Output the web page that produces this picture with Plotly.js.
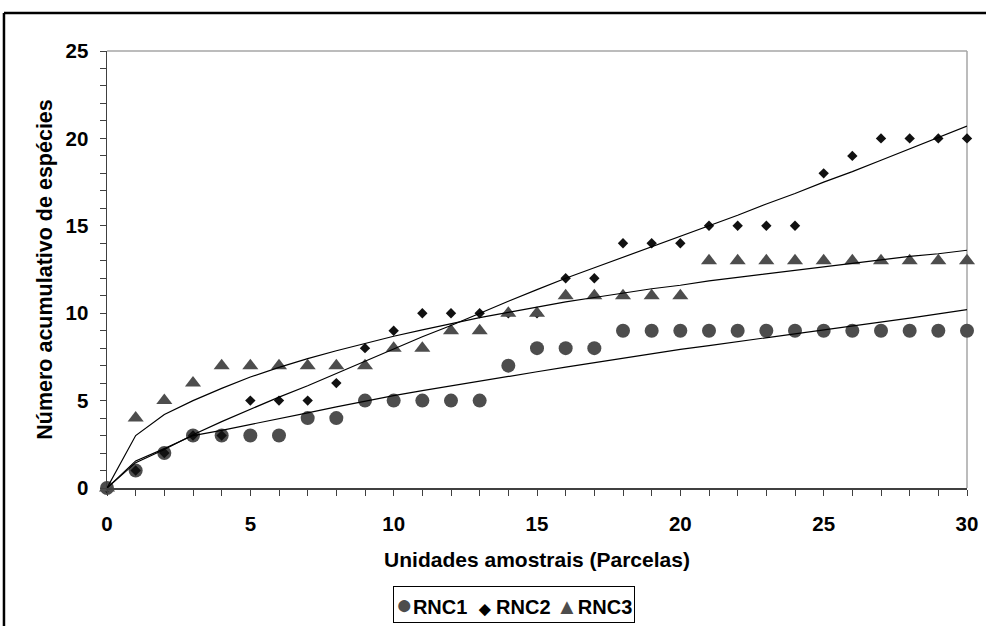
<!DOCTYPE html>
<html>
<head>
<meta charset="utf-8">
<script src="https://cdn.plot.ly/plotly-3.0.1.min.js"></script>
<style>
  html, body { margin: 0; padding: 0; background: #ffffff; }
  #chart { width: 986px; height: 626px; }
</style>
</head>
<body>
<div id="chart"></div>
<script>
// Accumulated species per sampling unit (plots) for three areas
const parcelas = [0, 1, 2, 3, 4, 5, 6, 7, 8, 9, 10, 11, 12, 13, 14, 15, 16, 17, 18, 19, 20, 21, 22, 23, 24, 25, 26, 27, 28, 29, 30];

const rnc1 = [0, 1, 2, 3, 3, 3, 3, 4, 4, 5, 5, 5, 5, 5, 7, 8, 8, 8, 9, 9, 9, 9, 9, 9, 9, 9, 9, 9, 9, 9, 9];
const rnc2 = [0, 1, 2, 3, 3, 5, 5, 5, 6, 8, 9, 10, 10, 10, 10, 10, 12, 12, 14, 14, 14, 15, 15, 15, 15, 18, 19, 20, 20, 20, 20];
const rnc3 = [0, 4, 5, 6, 7, 7, 7, 7, 7, 7, 8, 8, 9, 9, 10, 10, 11, 11, 11, 11, 11, 13, 13, 13, 13, 13, 13, 13, 13, 13, 13];

// Fitted accumulation curves
const ajuste1 = [0, 1.55, 2.25, 3.0, 3.3, 3.62, 3.95, 4.3, 4.64, 4.97, 5.28, 5.57, 5.85, 6.12, 6.39, 6.65, 6.92, 7.18, 7.44, 7.7, 7.93, 8.15, 8.37, 8.59, 8.8, 9.02, 9.25, 9.48, 9.72, 9.96, 10.2];
const ajuste2 = [0, 1.45, 2.2, 3.05, 3.8, 4.5, 5.2, 5.85, 6.55, 7.25, 7.95, 8.65, 9.3, 10.0, 10.68, 11.35, 12.0, 12.6, 13.2, 13.8, 14.4, 15.0, 15.6, 16.25, 16.85, 17.5, 18.1, 18.75, 19.4, 20.05, 20.7];
const ajuste3 = [0, 3.0, 4.2, 5.0, 5.7, 6.35, 6.9, 7.4, 7.85, 8.28, 8.68, 9.05, 9.4, 9.75, 10.05, 10.35, 10.65, 10.9, 11.15, 11.4, 11.6, 11.85, 12.05, 12.25, 12.45, 12.65, 12.85, 13.05, 13.25, 13.4, 13.6];

const xTicks = [0, 5, 10, 15, 20, 25, 30];
const yTicks = [0, 5, 10, 15, 20, 25];

const FONT = 'Liberation Sans, Arial, sans-serif';
const GRAY = '#4d4d4d';
const AXIS = '#404040';

const traces = [
  { x: parcelas, y: rnc1, name: 'RNC1', mode: 'markers', type: 'scatter', cliponaxis: false,
    marker: { symbol: 'circle', size: 14, color: GRAY } },
  { x: parcelas, y: rnc2, name: 'RNC2', mode: 'markers', type: 'scatter', cliponaxis: false,
    marker: { symbol: 'diamond', size: 8, color: '#111111' } },
  { x: parcelas, y: rnc3, name: 'RNC3', mode: 'markers', type: 'scatter', cliponaxis: false,
    marker: { symbol: 'triangle-up', size: 14, color: GRAY } },
  { x: parcelas, y: ajuste1, mode: 'lines', type: 'scatter', showlegend: false, cliponaxis: false,
    line: { color: '#000000', width: 1.2 } },
  { x: parcelas, y: ajuste2, mode: 'lines', type: 'scatter', showlegend: false, cliponaxis: false,
    line: { color: '#000000', width: 1.2 } },
  { x: parcelas, y: ajuste3, mode: 'lines', type: 'scatter', showlegend: false, cliponaxis: false,
    line: { color: '#000000', width: 1.2 } }
];

const layout = {
  width: 986,
  height: 626,
  margin: { l: 107, r: 19, t: 51, b: 138 },
  paper_bgcolor: '#ffffff',
  plot_bgcolor: '#ffffff',
  font: { family: FONT, size: 20, color: '#000000', weight: 'bold' },
  showlegend: false,
  xaxis: {
    range: [0, 30],
    tickmode: 'array', tickvals: xTicks, ticktext: xTicks.map(String),
    ticks: 'outside', ticklen: 6, tickwidth: 1, tickcolor: AXIS,
    minor: { tickmode: 'linear', tick0: 0, dtick: 1, ticks: 'outside', ticklen: 6, tickwidth: 1, tickcolor: AXIS },
    ticklabelstandoff: 11,
    showline: true, linecolor: AXIS, linewidth: 1.5,
    showgrid: false, zeroline: false,
    tickfont: { family: FONT, size: 20.5, weight: 'bold' },
    title: { text: 'Unidades amostrais (Parcelas)', font: { family: FONT, size: 21, weight: 'bold' }, standoff: 18 }
  },
  yaxis: {
    range: [0, 25],
    tickmode: 'array', tickvals: yTicks, ticktext: yTicks.map(String),
    ticks: 'outside', ticklen: 6, tickwidth: 1, tickcolor: AXIS,
    minor: { tickmode: 'linear', tick0: 0, dtick: 1, ticks: 'outside', ticklen: 6, tickwidth: 1, tickcolor: AXIS },
    ticklabelstandoff: 7,
    showline: true, linecolor: AXIS, linewidth: 1.5,
    showgrid: false, zeroline: false,
    tickfont: { family: FONT, size: 20.5, weight: 'bold' },
    title: { text: 'Número acumulativo de espécies', font: { family: FONT, size: 21.5, weight: 'bold' }, standoff: 7 }
  },
  shapes: [
    // light frame closing the plot area on top and right
    { type: 'line', xref: 'paper', yref: 'paper', x0: 0, x1: 1, y0: 1, y1: 1, line: { color: '#a6a6a6', width: 1.5 }, layer: 'below' },
    { type: 'line', xref: 'paper', yref: 'paper', x0: 1, x1: 1, y0: 0, y1: 1, line: { color: '#a6a6a6', width: 1.5 }, layer: 'below' },
    // outer chart border
    { type: 'line', xref: 'paper', yref: 'paper', x0: -0.1198, x1: 1.05, y0: 1.087, y1: 1.087, line: { color: '#000000', width: 2.5 } },
    { type: 'line', xref: 'paper', yref: 'paper', x0: -0.1198, x1: -0.1198, y0: 1.087, y1: -0.35, line: { color: '#000000', width: 2.5 } }
  ],
  annotations: [
    {
      xref: 'paper', yref: 'paper', x: 0.4738, y: -0.2677, xanchor: 'center', yanchor: 'middle',
      showarrow: false,
      text: '<span style="color:#4d4d4d;font-size:28px">●</span>RNC1&nbsp;&nbsp;<span style="font-size:15px">◆</span> RNC2 <span style="color:#4d4d4d;font-size:22px">▲</span>RNC3',
      font: { family: FONT, size: 20, color: '#000000', weight: 'bold' },
      bordercolor: '#000000', borderwidth: 1, borderpad: 2, bgcolor: '#ffffff'
    }
  ]
};

Plotly.newPlot('chart', traces, layout, { displayModeBar: false, staticPlot: true });
</script>
</body>
</html>
